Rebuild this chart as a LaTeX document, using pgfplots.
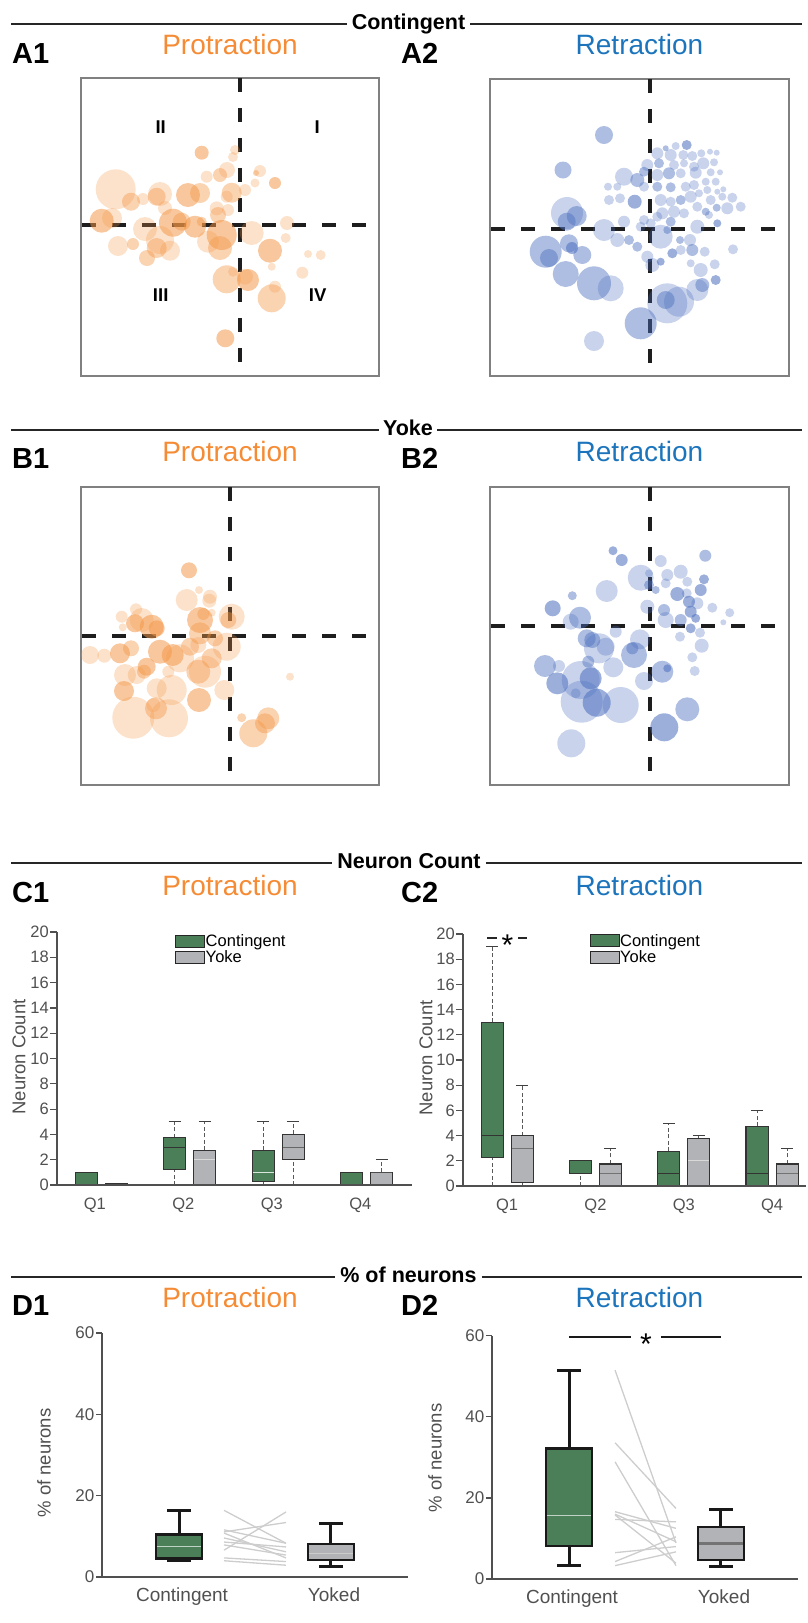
\documentclass[border=0pt]{standalone}
\usepackage{fontspec}
\setmainfont{Liberation Sans}
\usepackage{pgfplots}
\pgfplotsset{compat=1.18}

\definecolor{porange}{RGB}{245,139,52}
\definecolor{rblue}{RGB}{28,117,188}
\definecolor{dotor}{RGB}{243,150,70}
\definecolor{dotbl}{RGB}{75,110,190}
\definecolor{cgreen}{RGB}{74,127,88}
\definecolor{cgrey}{RGB}{178,179,182}
\definecolor{axgray}{RGB}{80,80,80}
\definecolor{pairgray}{RGB}{205,205,205}
\definecolor{dashk}{RGB}{30,30,30}

\newcommand\fs[1]{\fontsize{#1}{#1}\selectfont}

% C box: pos, lower whisker, lower quartile, median, upper quartile, upper whisker, fill, median colour
\newcommand\cbox[8]{%
  \pgfmathsetmacro\bxl{#1-0.125}\pgfmathsetmacro\bxr{#1+0.125}%
  \pgfmathsetmacro\wxl{#1-0.068}\pgfmathsetmacro\wxr{#1+0.068}%
  \pgfmathsetmacro\mxl{#1-0.118}\pgfmathsetmacro\mxr{#1+0.118}%
  \addplot[forget plot, black!65, line width=1pt, dash pattern=on 4pt off 2.5pt] coordinates {(#1,#5) (#1,#6)};
  \addplot[forget plot, black!65, line width=1pt, dash pattern=on 4pt off 2.5pt] coordinates {(#1,#2) (#1,#3)};
  \addplot[forget plot, black!75, line width=1pt] coordinates {(\wxl,#6) (\wxr,#6)};
  \addplot[forget plot, fill=#7, draw=black!80, line width=1.1pt] coordinates {(\bxl,#3) (\bxr,#3) (\bxr,#5) (\bxl,#5)} -- cycle;
  \addplot[forget plot, draw=#8, line width=1pt] coordinates {(\mxl,#4) (\mxr,#4)};
}
% D box: pos, lw, lq, med, uq, uw, fill, median colour, median width
\newcommand\dbox[9]{%
  \pgfmathsetmacro\bxl{#1-0.151}\pgfmathsetmacro\bxr{#1+0.151}%
  \pgfmathsetmacro\wxl{#1-0.076}\pgfmathsetmacro\wxr{#1+0.076}%
  \pgfmathsetmacro\mxl{#1-0.146}\pgfmathsetmacro\mxr{#1+0.146}%
  \addplot[forget plot, black!90, line width=3pt] coordinates {(#1,#5) (#1,#6)};
  \addplot[forget plot, black!90, line width=3pt] coordinates {(#1,#2) (#1,#3)};
  \addplot[forget plot, black!90, line width=3pt] coordinates {(\wxl,#6) (\wxr,#6)};
  \addplot[forget plot, black!90, line width=3pt] coordinates {(\wxl,#2) (\wxr,#2)};
  \addplot[forget plot, fill=#7, draw=black!90, line width=2.4pt] coordinates {(\bxl,#3) (\bxr,#3) (\bxr,#5) (\bxl,#5)} -- cycle;
  \addplot[forget plot, draw=#8, line width=#9] coordinates {(\mxl,#4) (\mxr,#4)};
}

\pgfplotsset{
  bubble/.style={scale only axis, y dir=reverse,
    xtick=\empty, ytick=\empty, axis line style={draw=gray, line width=1.3pt}},
  quad/.style={dashk, mark=none, line width=3.2pt, dash pattern=on 14pt off 16pt},
  bub/.style 2 args={scatter, only marks, mark=*,
    scatter/use mapped color={draw=#1, draw opacity=0, fill=#1, fill opacity=#2},
    fill opacity=#2, draw opacity=0,
    mark options={fill opacity=#2, draw opacity=0},
    visualization depends on={value \thisrow{r} \as \msz},
    scatter/@pre marker code/.append style={/tikz/mark size=\msz}},
  Caxis/.style={scale only axis, axis x line*=bottom, axis y line*=left,
    ymin=0, ymax=20, ytick={0,2,...,20}, tick align=outside,
    major tick length=7pt, xtick style={draw=none},
    ytick style={line width=1.2pt, draw=axgray},
    axis line style={line width=1.7pt, draw=axgray},
    tick label style={font=\fs{16.5}, text=axgray},
    /pgf/number format/assume math mode=true,
    yticklabel style={inner sep=1pt},
    xticklabel style={inner sep=0pt, yshift=-6pt},
    xticklabels={Q1,Q2,Q3,Q4},
    axis on top, clip=false,
    legend cell align=left,
    legend style={anchor=north west, draw=none, fill=none, inner sep=0pt, outer sep=0pt,
      font=\fs{16.5}, row sep=1.8pt, nodes={inner sep=0.5pt}}},
  Daxis/.style={scale only axis, width=306pt, axis x line*=bottom, axis y line*=left,
    xmin=0.493, xmax=2.507, ymin=0, ymax=60, ytick={0,20,40,60}, xtick={1.02,2.02},
    xticklabels={Contingent,Yoked},
    tick align=outside, major tick length=6pt, xtick style={draw=none},
    ytick style={line width=1.2pt, draw=axgray},
    axis line style={line width=1.7pt, draw=axgray},
    tick label style={font=\fs{17}, text=axgray},
    xticklabel style={font=\fs{19}, inner sep=0pt, yshift=-5pt},
    yticklabel style={inner sep=1.5pt},
    /pgf/number format/assume math mode=true,
    clip=false},
}

\begin{document}
\begin{tikzpicture}
\path[use as bounding box] (0pt,0pt) rectangle (808pt,-1623pt);
\coordinate (y1) at (0pt,-24pt);
\coordinate (y2) at (0pt,-430pt);
\coordinate (y3) at (0pt,-863pt);
\coordinate (y4) at (0pt,-1277pt);

% ---------- section headers ----------
\node[anchor=base, font=\bfseries\fs{21.5}, inner xsep=5pt, inner ysep=0pt] (h1) at (408.5pt,-29pt) {Contingent};
\draw[line width=2pt, black!85] (11pt,-24pt) -- (h1.west |- y1) (h1.east |- y1) -- (802pt,-24pt);
\node[anchor=base, font=\bfseries\fs{21.5}, inner xsep=4pt, inner ysep=0pt] (h2) at (408pt,-435pt) {Yoke};
\draw[line width=2pt, black!85] (11pt,-430pt) -- (h2.west |- y2) (h2.east |- y2) -- (802pt,-430pt);
\node[anchor=base, font=\bfseries\fs{21.5}, inner xsep=5pt, inner ysep=0pt] (h3) at (409pt,-868pt) {Neuron Count};
\draw[line width=2pt, black!85] (11pt,-863pt) -- (h3.west |- y3) (h3.east |- y3) -- (802pt,-863pt);
\node[anchor=base, font=\bfseries\fs{21.5}, inner xsep=5pt, inner ysep=0pt] (h4) at (408.5pt,-1282pt) {\% of neurons};
\draw[line width=2pt, black!85] (11pt,-1277pt) -- (h4.west |- y4) (h4.east |- y4) -- (802pt,-1277pt);

% ---------- panel letters ----------
\foreach \lab/\yy in {A/63,B/468,C/902,D/1315}{
  \node[anchor=base west, inner sep=0pt, font=\bfseries\fs{29}] at (12pt,-\yy pt) {\lab1};
  \node[anchor=base west, inner sep=0pt, font=\bfseries\fs{29}] at (401pt,-\yy pt) {\lab2};
}
% ---------- titles ----------
\foreach \yy in {54,461,895,1307}{
  \node[anchor=base, inner sep=0pt, font=\fs{28}, text=porange] at (230pt,-\yy pt) {Protraction};
  \node[anchor=base, inner sep=0pt, font=\fs{28}, text=rblue] at (639.5pt,-\yy pt) {Retraction};
}

% ================= A1 =================
\begin{axis}[bubble, at={(81pt,-78pt)}, anchor=north west, width=298pt, height=298pt,
  xmin=81, xmax=379, ymin=78, ymax=376]
\addplot[bub={dotor}{0.28}] table {
x y r
115.7 189.3 20
143 199 6
160 194 12
235 150 5
233 157 5
227 170 8
206.7 176.7 6
260 171 6
255 183 4.5
245 190 6
226.7 196.7 6
216.7 208.3 7
228 210 6
165 208 7
112 218 10
145 229 12
208 241.7 11
251.7 233 12
287 223 7
285.7 238 5
271.7 266.7 4
118 246 10
160 240 14
170 250.7 10
308 254 4
320.7 255 5
302.3 272.7 6
233 271.7 5
245 276.7 8
275 286.7 6
};
\addplot[bub={dotor}{0.42}] table {
x y r
131 201.7 9
156.7 196.7 9
200 193 10
220 175 7
256 173 3
231.7 192.7 10
218 215 8
181.7 221.7 9
201.7 221.7 5
220 248 12
133 244 6
156.7 248 10
147 258 8
226.7 279.3 14
271.7 298.3 14
};
\addplot[bub={dotor}{0.53}] table {
x y r
188 195 12
201.7 152.7 7
275 183 6
101.7 220.7 12
173 222.7 14
195 226.7 11
221.7 235 15
270 250.7 12
248 280 11
225.3 338.3 9
};
\addplot[quad] coordinates {(240,78) (240,376)};
\addplot[quad] coordinates {(82,225) (375,225)};
\node[font=\bfseries\fs{18.5}] at (axis cs:160.7,126.7) {II};
\node[font=\bfseries\fs{18.5}] at (axis cs:317.3,126.7) {I};
\node[font=\bfseries\fs{18.5}] at (axis cs:160.7,295) {III};
\node[font=\bfseries\fs{18.5}] at (axis cs:317.7,295) {IV};
\end{axis}

% ================= A2 =================
\begin{axis}[bubble, at={(490pt,-79pt)}, anchor=north west, width=299pt, height=297pt,
  xmin=490, xmax=789, ymin=79, ymax=376]
\addplot[bub={dotbl}{0.3}] table {
x y r
567 213 16
610.7 288.3 13
594 341 10
667.3 303.3 20
679 301.7 15
697.3 290 11
700.7 270 7
714.7 264.3 5
690.7 263.3 4
733 249.3 5
604 230 11
617.3 240 7
624 221.7 6
647.3 256.7 6
652.3 265 7
660.7 236.7 12
640.7 226.7 5
650.7 223.3 5
680.7 250 5
690 240 6
704.7 251.7 5
697.3 226.7 7
675.7 146 4
657.3 153.3 6
670.7 155 6
683.3 155 5
692.3 156 5
701.3 153.3 4
710 151.7 3
716.7 152.7 3
647.3 165 6
674 165 5
684 163.3 4
694 166.7 5
703.3 163.3 6
714 162.3 4
624 176.7 9
657.3 175 6
680.7 173.3 5
695.7 172.7 6
710.7 172.3 4
720 172.3 3
608 186.7 4
617.3 186.7 4
644 186.7 5
685.7 186.7 5
694 185 5
705.7 181.7 4
715.7 181.7 4
609 200 5
620 198.3 5
660.7 200 6
670.7 201.7 5
690.7 196.7 6
699 193.3 4
707.3 190 4
717.3 191.7 3
723.3 189.3 3
710.7 200 5
722.3 196.7 4
732.3 197.7 5
740.7 206.7 5
727.3 208.3 6
697.3 206.7 5
684 213.3 5
674 211.7 6
662.3 213.3 6
657.3 216.7 5
644 220 5
709 215 4
};
\addplot[bub={dotbl}{0.45}] table {
x y r
604 135 9
563 170 8.5
576.7 216 10
566.7 221.7 9
545.7 251.7 16
549 258 9
569 243.3 9
582.3 255 9
565.7 274 13
594 283.3 17
640.7 323.3 16
665.7 300 9
702.3 285 7
629 240 5
637.3 246.7 5
680 240 4
692.3 250 6
667.3 230 4
665.7 148.3 3
659 163.3 5
637.3 180 7
644 171.7 5
669 173.3 6
657.3 186.7 5
670.7 187.3 5
680.7 200 5
716.7 207.7 4
705.7 211.7 4
670.7 221.7 5
};
\addplot[bub={dotbl}{0.55}] table {
x y r
572 248 6
715.7 280 5
660.7 261.7 4
672.3 253.3 5
717.3 223.3 4
686.7 145 5
634.7 201.7 7
};
\addplot[quad] coordinates {(650,79) (650,376)};
\addplot[quad] coordinates {(491,229) (785,229)};
\end{axis}

% ================= B1 =================
\begin{axis}[bubble, at={(81pt,-487pt)}, anchor=north west, width=298pt, height=298pt,
  xmin=81, xmax=379, ymin=487, ymax=785]
\addplot[bub={dotor}{0.28}] table {
x y r
199 590 4
186.7 600 11
210 596.7 7
209.3 600.7 7
231.7 616.7 13
211.7 612.7 4
121.7 616.7 6
136 609.3 6
122.7 627.3 4
141.7 620 12
226.7 646.7 14
90 655 9
104.3 655.7 7
180 658.3 14
198.3 645 8
205 671.7 16
125 675 11
136.7 675 9
168.3 671.7 6
171.7 690 15
156.7 688.3 10
224.3 690 10
133.3 717.7 21
169 718.3 19
153.3 705 7
290 676.7 4
};
\addplot[bub={dotor}{0.42}] table {
x y r
228.3 620 8
203.3 614 6
200 633.3 11
215 638.3 8
131 648.3 8
190 646.7 9
211.7 658.3 10
198.3 671.7 12
144 671.7 7
156 708.3 11
241.7 717.7 4.5
253.3 733.3 14
265 723.3 10
268.3 718.3 11
};
\addplot[bub={dotor}{0.53}] table {
x y r
189 570.3 8
200 620 13
135 623.3 9
151.7 626.7 12
156.7 628.3 8
120 653.3 10
160 651.7 12
172.7 655 11
146.7 666.7 9
124 691 10
199 700 12
};
\addplot[quad] coordinates {(230,487) (230,785)};
\addplot[quad] coordinates {(82,636) (375,636)};
\end{axis}

% ================= B2 =================
\begin{axis}[bubble, at={(490pt,-487pt)}, anchor=north west, width=299pt, height=298pt,
  xmin=490, xmax=789, ymin=487, ymax=785]
\addplot[bub={dotbl}{0.3}] table {
x y r
660.7 561 6
640.7 577.7 13
649 573.3 4
606.7 591 11
570.7 621.7 8
667.3 575 6
680.7 571.7 7
687.3 581.7 5
686.7 593.3 5
697.3 603.3 6
712.3 607.7 5
729.7 612.7 4.5
723.3 622.3 3
665.7 583.3 5
647.3 606.7 7
665.7 620 8
700 632.7 5
680 636.7 5
701.7 645.7 7
692.3 657.3 5
694.7 671 5
599 648.3 15
605.7 646.7 9
615.7 631.7 6
640 639.3 10
613.3 667.3 10
644 681 9
559 666 6
580.7 680 19
581.7 701.7 21
575.7 693.3 5
620.7 705 18
571.3 743.3 14
};
\addplot[bub={dotbl}{0.45}] table {
x y r
705.3 555.7 6
572.3 595.7 4.5
580 617.7 11
655.7 590 4
649 585 5
664 610 6
680.7 620 6
586.7 638.3 9
592.3 640 8
634 655 13
632.3 648.3 6
662.3 671.7 11
545 666 11
588.3 661.7 6
687.3 709.3 12
};
\addplot[bub={dotbl}{0.55}] table {
x y r
613 550.7 4.5
621.7 560 6
552.7 608.3 8
704 579.3 5
700.7 590 6
677.3 594 7
689 601.7 6
690.7 611.7 6
695.7 618.3 4.5
690.7 628.3 5
667.3 668.3 4
590.7 678.3 11
557.3 683.3 11
596.7 702.7 14
664.3 727.3 14
};
\addplot[quad] coordinates {(650,487) (650,785)};
\addplot[quad] coordinates {(491,626) (785,626)};
\end{axis}

% ================= C1 =================
\begin{axis}[Caxis, at={(57pt,-1185pt)}, anchor=south west, width=355pt, height=253pt,
  xmin=0.5, xmax=4.511, xtick={0.927,1.927,2.927,3.927},
  legend style={at={(axis cs:1.836,19.86)}}]
\cbox{0.83}{0}{0}{1}{1}{1}{cgreen}{black!80}
\cbox{1.17}{0}{0}{0}{0.08}{0.08}{cgrey}{black!80}
\cbox{1.83}{0}{1.2}{3}{3.75}{5}{cgreen}{black!80}
\cbox{2.17}{0}{0}{2}{2.75}{5}{cgrey}{white!85!black}
\cbox{2.83}{0}{0.25}{1}{2.75}{5}{cgreen}{white!80!cgreen}
\cbox{3.17}{0}{2}{3}{4}{5}{cgrey}{black!60}
\cbox{3.83}{0}{0}{1}{1}{1}{cgreen}{black!80}
\cbox{4.17}{0}{0}{1}{1}{2}{cgrey}{black!70}
\addlegendimage{legend image code/.code={\draw[fill=cgreen,draw=black!85,line width=1pt] (0pt,-6pt) rectangle (29pt,6pt);}}
\addlegendentry{Contingent}
\addlegendimage{legend image code/.code={\draw[fill=cgrey,draw=black!85,line width=1pt] (0pt,-6pt) rectangle (29pt,6pt);}}
\addlegendentry{Yoke}
\end{axis}
\node[rotate=90, font=\fs{18.5}, text=axgray] at (19pt,-1057pt) {Neuron Count};

% ================= C2 =================
\begin{axis}[Caxis, at={(463pt,-1186pt)}, anchor=south west, width=343pt, height=252pt,
  xmin=0.5, xmax=4.384, xtick={1,2,3,4},
  legend style={at={(axis cs:1.934,20.02)}}]
\cbox{0.83}{0}{2.25}{4}{13}{19}{cgreen}{black!80}
\cbox{1.17}{0}{0.25}{3}{4}{8}{cgrey}{black!55}
\cbox{1.83}{0}{1}{2}{2}{2}{cgreen}{black!80}
\cbox{2.17}{0}{0}{1}{1.75}{3}{cgrey}{black!55}
\cbox{2.83}{0}{0}{1}{2.75}{5}{cgreen}{black!80}
\cbox{3.17}{0}{0}{2}{3.75}{4}{cgrey}{white!85!black}
\cbox{3.83}{0}{0}{1}{4.75}{6}{cgreen}{black!80}
\cbox{4.17}{0}{0}{1}{1.75}{3}{cgrey}{black!55}
\addlegendimage{legend image code/.code={\draw[fill=cgreen,draw=black!85,line width=1pt] (0pt,-6pt) rectangle (29pt,6pt);}}
\addlegendentry{Contingent}
\addlegendimage{legend image code/.code={\draw[fill=cgrey,draw=black!85,line width=1pt] (0pt,-6pt) rectangle (29pt,6pt);}}
\addlegendentry{Yoke}
\end{axis}
\node[rotate=90, font=\fs{18.5}, text=axgray] at (426pt,-1058pt) {Neuron Count};
\draw[line width=1.3pt, black!85] (487pt,-938pt) -- (497pt,-938pt) (518pt,-938pt) -- (527pt,-938pt);
\node[anchor=base, font=\fs{30}, inner sep=0pt] at (507.5pt,-955pt) {*};

% ================= D1 =================
\begin{axis}[Daxis, at={(102pt,-1577pt)}, anchor=south west, height=244pt]
\dbox{1}{4.0}{4.6}{7.45}{10.5}{16.3}{cgreen}{white!65!cgreen}{1.2pt}
\dbox{2}{2.7}{4.2}{5.8}{8.1}{13.2}{cgrey}{white!80!black}{1.2pt}
\addplot[pairgray, line width=1.3pt] coordinates {(1.296,16.4) (1.704,8.3)};
\addplot[pairgray, line width=1.3pt] coordinates {(1.296,6.6) (1.704,16.0)};
\addplot[pairgray, line width=1.3pt] coordinates {(1.296,11.1) (1.704,13.4)};
\addplot[pairgray, line width=1.3pt] coordinates {(1.296,10.8) (1.704,4.7)};
\addplot[pairgray, line width=1.3pt] coordinates {(1.296,9.6) (1.704,6.2)};
\addplot[pairgray, line width=1.3pt] coordinates {(1.296,8.6) (1.704,7.4)};
\addplot[pairgray, line width=1.3pt] coordinates {(1.296,7.9) (1.704,5.4)};
\addplot[pairgray, line width=1.3pt] coordinates {(1.296,4.7) (1.704,3.8)};
\addplot[pairgray, line width=1.3pt] coordinates {(1.296,4.0) (1.704,2.9)};
\addplot[pairgray, line width=1.3pt] coordinates {(1.296,11.6) (1.704,8.3)};
\end{axis}
\node[rotate=90, font=\fs{18.5}, text=axgray] at (44pt,-1463pt) {\% of neurons};

% ================= D2 =================
\begin{axis}[Daxis, at={(492pt,-1579pt)}, anchor=south west, height=243.3pt]
\dbox{1}{3.3}{8.2}{15.7}{32.2}{51.5}{cgreen}{white!65!cgreen}{1.2pt}
\dbox{2}{3.0}{4.7}{8.8}{12.9}{17.2}{cgrey}{black!55}{2.5pt}
\addplot[pairgray, line width=1.3pt] coordinates {(1.303,51.5) (1.704,8.9)};
\addplot[pairgray, line width=1.3pt] coordinates {(1.303,33.6) (1.704,17.4)};
\addplot[pairgray, line width=1.3pt] coordinates {(1.303,28.9) (1.704,3.3)};
\addplot[pairgray, line width=1.3pt] coordinates {(1.303,16.6) (1.704,12.5)};
\addplot[pairgray, line width=1.3pt] coordinates {(1.303,15.8) (1.704,3.9)};
\addplot[pairgray, line width=1.3pt] coordinates {(1.303,14.7) (1.704,14.1)};
\addplot[pairgray, line width=1.3pt] coordinates {(1.303,6.5) (1.704,8.0)};
\addplot[pairgray, line width=1.3pt] coordinates {(1.303,4.3) (1.704,10.4)};
\addplot[pairgray, line width=1.3pt] coordinates {(1.303,3.3) (1.704,6.7)};
\addplot[pairgray, line width=1.3pt] coordinates {(1.303,16.0) (1.704,9.2)};
\end{axis}
\node[rotate=90, font=\fs{18.5}, text=axgray] at (435pt,-1458pt) {\% of neurons};
\draw[line width=1.8pt, black!90] (569pt,-1337pt) -- (631pt,-1337pt) (661pt,-1337pt) -- (721pt,-1337pt);
\node[anchor=base, font=\fs{30}, inner sep=0pt] at (646pt,-1354pt) {*};

\end{tikzpicture}
\end{document}
